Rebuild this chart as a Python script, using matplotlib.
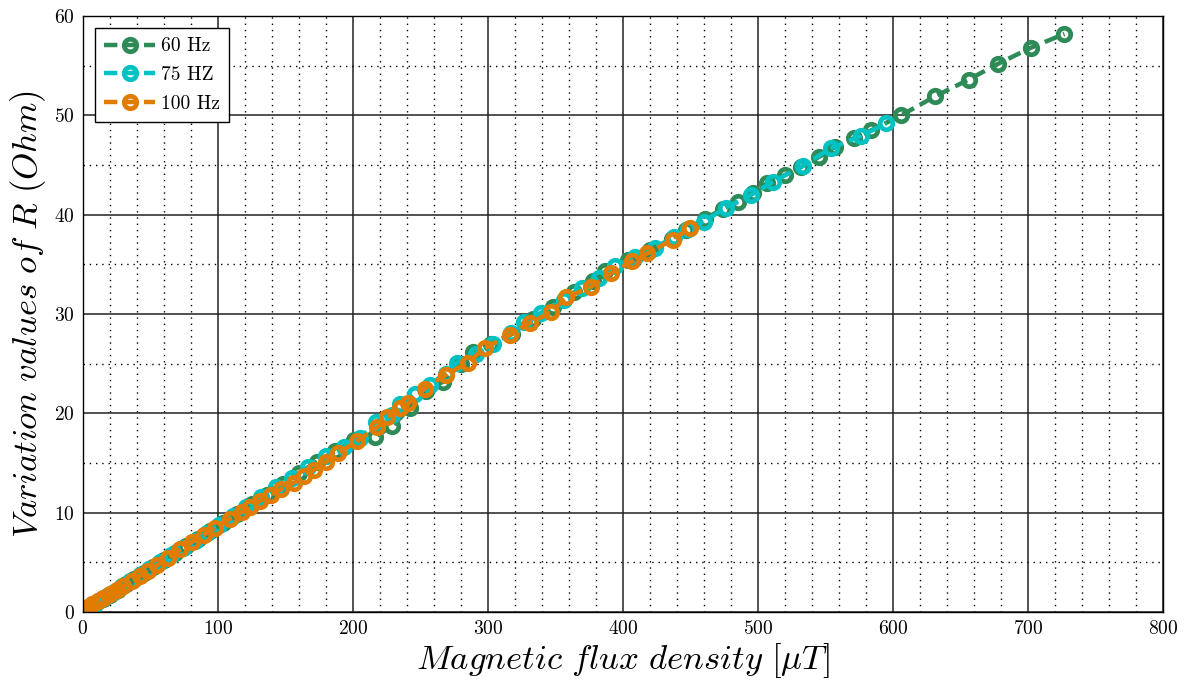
import matplotlib
matplotlib.use("Agg")
import matplotlib.pyplot as plt
from matplotlib.ticker import MultipleLocator

# 60 Hz
b60 = [3, 6, 10, 15, 20, 26, 32, 38, 45, 52, 60, 68, 76, 85, 94, 104, 114, 125, 136, 148,
       160, 173, 187, 201, 216, 229, 242, 254, 267, 280, 289, 302, 318, 333, 348, 364, 378,
       387, 404, 420, 436, 447, 461, 474, 485, 496, 507, 520, 532, 545, 557, 571, 584, 606,
       631, 656, 678, 702, 727]
r60 = [0.3, 0.5, 0.9, 1.3, 1.7, 2.2, 2.8, 3.3, 3.9, 4.5, 5.2, 5.9, 6.6, 7.4, 8.2, 9.0, 9.9,
       10.9, 11.8, 12.9, 14.0, 15.1, 16.2, 17.3, 17.6, 18.7, 20.5, 22.3, 23.2, 25.0, 26.2,
       27.0, 28.0, 29.5, 30.7, 32.2, 33.3, 34.3, 35.4, 36.4, 37.6, 38.5, 39.6, 40.6, 41.3,
       42.2, 43.2, 44.0, 44.8, 45.8, 46.8, 47.7, 48.5, 50.0, 51.9, 53.6, 55.2, 56.8, 58.2]

# 75 Hz
b75 = [2, 5, 9, 13, 18, 23, 29, 35, 42, 49, 57, 65, 74, 83, 92, 101, 111, 121, 132, 143,
       155, 167, 180, 193, 205, 217, 229, 235, 246, 257, 269, 277, 291, 304, 317, 327, 339,
       356, 370, 382, 394, 409, 424, 438, 448, 460, 476, 495, 511, 533, 554, 576, 595]
r75 = [0.2, 0.5, 0.8, 1.2, 1.6, 2.0, 2.6, 3.1, 3.7, 4.3, 5.0, 5.7, 6.4, 7.2, 8.0, 8.8, 9.7,
       10.6, 11.6, 12.6, 13.5, 14.6, 15.7, 16.6, 17.5, 19.1, 19.8, 20.9, 21.9, 22.9, 24.0,
       25.1, 26.0, 27.0, 28.1, 29.2, 30.1, 31.4, 32.6, 33.6, 34.8, 35.7, 36.6, 37.8, 38.6,
       39.3, 40.7, 42.0, 43.3, 44.9, 46.7, 47.9, 49.2]

# 100 Hz
b100 = [1, 4, 7, 11, 15, 20, 25, 30, 36, 42, 48, 55, 63, 72, 81, 90, 98, 109, 118, 124, 131,
        139, 147, 156, 164, 171, 180, 189, 203, 218, 225, 235, 241, 253, 269, 285, 298, 316,
        331, 347, 358, 376, 391, 407, 418, 437, 450]
r100 = [0.3, 0.5, 0.8, 1.1, 1.4, 1.8, 2.2, 2.6, 3.1, 3.6, 4.1, 4.7, 5.4, 6.3, 7.1, 7.8, 8.5,
        9.4, 10.1, 10.6, 11.2, 11.8, 12.4, 13.0, 13.7, 14.3, 15.1, 16.0, 17.2, 18.6, 19.6,
        20.5, 21.0, 22.5, 23.9, 25.1, 26.6, 27.9, 29.1, 30.2, 31.7, 32.7, 34.1, 35.3, 36.1,
        37.5, 38.7]

plt.rcParams['font.family'] = ['cmr10', 'DejaVu Serif']
plt.rcParams['mathtext.fontset'] = 'cm'
plt.rcParams['axes.formatter.use_mathtext'] = True

fig = plt.figure(figsize=(11.9, 6.82), dpi=100)
ax = fig.add_axes([0.0697, 0.1026, 0.9076, 0.8739])

estilo = dict(linestyle='--', linewidth=3.2, marker='o', markersize=9,
              markerfacecolor='none', markeredgewidth=3.4, dashes=(3, 1.5))
ax.plot(b60, r60, color='#2E8B57', label='60 Hz', **estilo)
ax.plot(b75, r75, color='#00C2C2', label='75 HZ', **estilo)
ax.plot(b100, r100, color='#E07C00', label='100 Hz', **estilo)

ax.set_xlim(0, 800)
ax.set_ylim(0, 60)
ax.xaxis.set_major_locator(MultipleLocator(100))
ax.xaxis.set_minor_locator(MultipleLocator(20))
ax.yaxis.set_major_locator(MultipleLocator(10))
ax.yaxis.set_minor_locator(MultipleLocator(5))
ax.grid(which='major', color='#222222', linestyle='-', linewidth=1.1)
ax.grid(which='minor', color='black', linestyle=(0, (1, 3.5)), linewidth=1.0)
ax.set_axisbelow(True)
ax.tick_params(which='both', direction='in', length=0, labelsize=14, pad=6)
for s in ax.spines.values():
    s.set_linewidth(1.0)

ax.set_xlabel(r'$\mathit{Magnetic\ flux\ density\ [\mu T]}$', fontsize=25, labelpad=2)
ax.set_ylabel(r'$\mathit{Variation\ values\ of\ R\ (Ohm)}$', fontsize=25, labelpad=4)

leg = ax.legend(loc='upper left', fontsize=14, frameon=True, fancybox=False,
                handlelength=2.6, borderpad=0.5, labelspacing=0.55, handletextpad=0.3,
                borderaxespad=0.6)
leg.get_frame().set_edgecolor('black')
leg.get_frame().set_linewidth(1.0)
leg.get_frame().set_alpha(1)

fig.savefig('out.png', dpi=100)
